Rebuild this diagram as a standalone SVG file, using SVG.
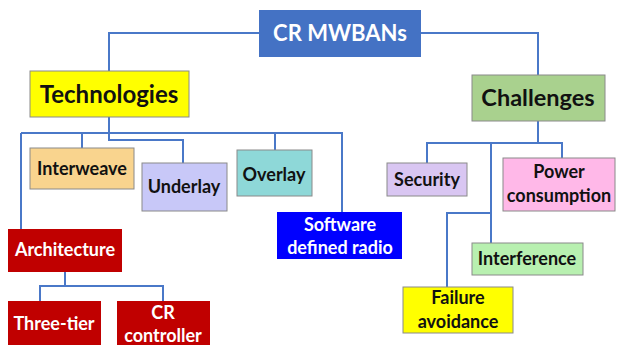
<svg xmlns="http://www.w3.org/2000/svg" width="618" height="345" viewBox="0 0 618 345">
<style>
.b{stroke:#8a8a8a;stroke-width:1}
.t{font-family:Lato,"Liberation Sans",sans-serif;font-weight:bold;text-anchor:middle;fill:#111}
.w{fill:#fff}
.s{font-size:18px}
.c{fill:none;stroke:#4a78c8;stroke-width:2}
</style>
<rect width="618" height="345" fill="#fff"/>
<g id="connectors" class="c">
<path d="M259,33 H109 V71"/>
<path d="M421,33 H538 V75"/>
<path d="M109,117 V133"/>
<path d="M21,133 H342 V212"/>
<path d="M109,133 V140 H183 V163"/>
<path d="M82,133 V148"/>
<path d="M275,133 V150"/>
<path d="M21,133 V229"/>
<path d="M65,272 V286"/>
<path d="M40,301 V286 H163 V301"/>
<path d="M538,121 V143"/>
<path d="M427,163 V143 H562 V158"/>
<path d="M491,143 V243"/>
<path d="M491,213 H447 V287"/>
</g>
<g id="root"><rect x="259" y="10" width="162" height="47" fill="#4472c4"/><text class="t w" x="340" y="41" font-size="22">CR MWBANs</text></g>
<g id="technologies"><rect class="b" x="30" y="71" width="159" height="46" fill="#ffff00"/><text class="t" x="109" y="103" font-size="24">Technologies</text></g>
<g id="challenges"><rect class="b" x="472" y="75" width="133" height="46" fill="#a9d18e"/><text class="t" x="538" y="106" font-size="23.5">Challenges</text></g>
<g id="interweave"><rect class="b" x="30" y="148" width="104" height="41" fill="#f9d48e"/><text class="t s" x="82" y="175">Interweave</text></g>
<g id="underlay"><rect class="b" x="142" y="163" width="85" height="48" fill="#c8c8f8"/><text class="t s" x="184" y="193">Underlay</text></g>
<g id="overlay"><rect class="b" x="237" y="150" width="75" height="46" fill="#8ed8d8"/><text class="t s" x="274" y="181">Overlay</text></g>
<g id="sdr"><rect x="277" y="212" width="125" height="47" fill="#0000ff"/><text class="t s w" x="340" y="231">Software</text><text class="t s w" x="340" y="254">defined radio</text></g>
<g id="architecture"><rect x="8" y="229" width="114" height="43" fill="#c00000"/><text class="t s w" x="65" y="256">Architecture</text></g>
<g id="threetier"><rect x="8" y="301" width="93" height="50" fill="#c00000"/><text class="t s w" x="54" y="330">Three-tier</text></g>
<g id="crcontroller"><rect x="117" y="301" width="93" height="50" fill="#c00000"/><text class="t s w" x="163" y="319">CR</text><text class="t s w" x="163" y="342">controller</text></g>
<g id="security"><rect class="b" x="387" y="163" width="80" height="33" fill="#d9c6f2"/><text class="t s" x="427" y="186">Security</text></g>
<g id="power"><rect class="b" x="503" y="158" width="112" height="53" fill="#ffb8e8"/><text class="t s" x="559" y="178">Power</text><text class="t s" x="559" y="202">consumption</text></g>
<g id="interference"><rect class="b" x="472" y="243" width="111" height="32" fill="#b8f0b0"/><text class="t s" x="527" y="265">Interference</text></g>
<g id="failure"><rect class="b" x="403" y="287" width="110" height="46" fill="#ffff00"/><text class="t s" x="458" y="304">Failure</text><text class="t s" x="458" y="328">avoidance</text></g>
</svg>
